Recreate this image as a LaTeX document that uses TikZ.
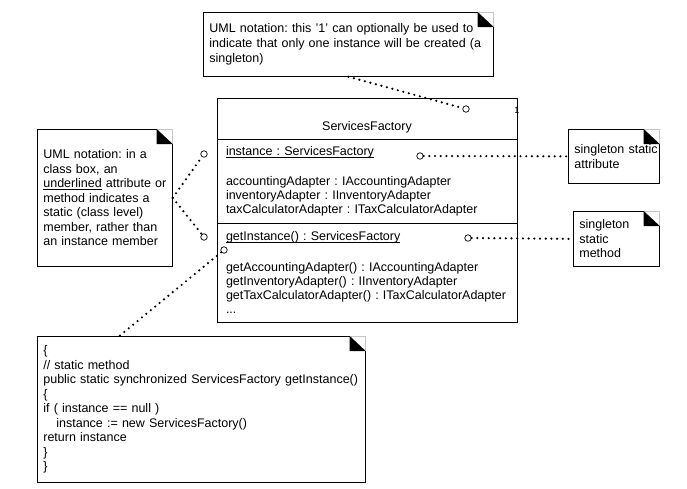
\documentclass[tikz,border=0pt]{standalone}
\usepackage{fontspec}
\setmainfont{Liberation Sans}
\usepackage{tikz}
\usetikzlibrary{positioning}

\newsavebox{\ulinebox}
\newcommand{\ulinetext}[1]{\leavevmode\sbox{\ulinebox}{#1}\rlap{\rule[-2.2pt]{\wd\ulinebox}{0.7pt}}\usebox{\ulinebox}}
\newcommand{\notefold}[1]{
\draw [gray!45] ([xshift=-16pt]#1.north east) -- (#1.north east) -- ([yshift=-15pt]#1.north east);
\draw ([xshift=-16pt]#1.north east) -- (#1.north west) -- (#1.south west) -- (#1.south east) -- ([yshift=-15pt]#1.north east);
\fill ([xshift=-16pt]#1.north east) -- ([xshift=-16pt,yshift=-15pt]#1.north east) -- ([yshift=-15pt]#1.north east) -- cycle;
}

\tikzset{
note/.style={anchor=north west, inner xsep=6pt, inner ysep=0pt, align=left, font=\fontsize{12.5pt}{14.5pt}\selectfont\frenchspacing},
classpart/.style={draw, line width=0.7pt, outer sep=0pt, minimum width=300pt, inner xsep=9pt, inner ysep=0pt, text width=282pt, align=left, font=\fontsize{12.5pt}{14pt}\selectfont\frenchspacing},
pin/.style={circle, draw, fill=white, inner sep=0pt, minimum size=6.5pt, line width=0.7pt},
dotline/.style={line width=2.4pt, line cap=round, dash pattern=on 0pt off 5.7pt}
}

\begin{document}
\begin{tikzpicture}[x=1pt,y=-1pt,line width=0.7pt]
\useasboundingbox (0,0) rectangle (687,488);

% class box
\node (classname) at (217,98) [classpart, anchor=north west, minimum height=41pt, align=center, text height=26pt, text depth=3pt] {ServicesFactory};
\node (attrs) [classpart, below=0pt of classname, minimum height=84pt] {
\ulinetext{instance : ServicesFactory}\\
\mbox{}\\[2pt]
accountingAdapter : IAccountingAdapter\\
inventoryAdapter : IInventoryAdapter\\
taxCalculatorAdapter : ITaxCalculatorAdapter
};
\node (methods) [classpart, below=0pt of attrs, minimum height=99pt] {
\ulinetext{getInstance() : ServicesFactory}\\
\mbox{}\\[3pt]
getAccountingAdapter() : IAccountingAdapter\\
getInventoryAdapter() : IInventoryAdapter\\
getTaxCalculatorAdapter() : ITaxCalculatorAdapter\\
...
};
\node (mult) at (514,110) [anchor=west, inner sep=0pt, font=\fontsize{9pt}{9pt}\selectfont] {1};

% notes
\node (topnote) at (203,12) [note, text width=278pt, minimum height=64pt, font=\fontsize{12.5pt}{15pt}\selectfont\frenchspacing] {
UML notation: this '1' can optionally be used to\\
indicate that only one instance will be created (a\\
singleton)
};
\node (leftnote) at (37,129) [note, text width=123pt, minimum height=137pt] {
UML notation: in a\\
class box, an\\
\ulinetext{underlined} attribute or\\
method indicates a\\
static (class level)\\
member, rather than\\
an instance member
};
\node (attrnote) at (568,129) [note, text width=79pt, minimum height=54pt] {
singleton~static\\
attribute
};
\node (methnote) at (573,211) [note, text width=74pt, minimum height=55pt] {
singleton\\
static\\
method
};
\node (codenote) at (37,336) [note, text width=316pt, minimum height=146pt] {
\{\\
// static method\\
public static synchronized ServicesFactory getInstance()\\
\{\\
if ( instance == null )\\
\hspace*{13pt}instance := new ServicesFactory()\\
return instance\\
\}\\
\}
};
\notefold{topnote}
\notefold{leftnote}
\notefold{attrnote}
\notefold{methnote}
\notefold{codenote}

% anchors on the class box
\node (pintop) at (466,109) [pin] {};
\node (pinattr) at (420,156) [pin] {};
\node (pinmeth) at (468,238) [pin] {};
\node (pinleftattr) at (204,154) [pin] {};
\node (pinleftmeth) at (204,237) [pin] {};
\node (pinget) at (224,250) [pin] {};

\draw [dotline] (topnote.south) -- (pintop);
\draw [dotline] (pinattr) -- (attrnote.west);
\draw [dotline] (pinmeth) -- (methnote.west);
\draw [dotline] (leftnote.east) -- (pinleftattr);
\draw [dotline] (leftnote.east) -- (pinleftmeth);
\draw [dotline] (pinget) -- ([xshift=-82pt]codenote.north);
\end{tikzpicture}
\end{document}
